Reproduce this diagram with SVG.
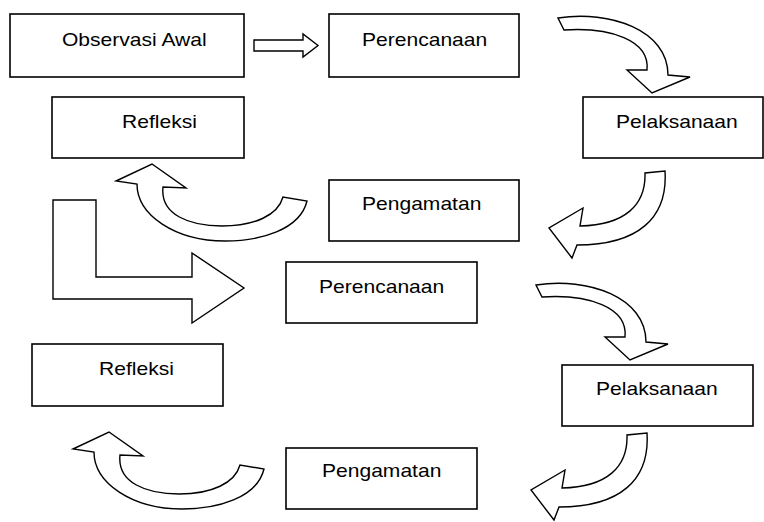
<svg xmlns="http://www.w3.org/2000/svg" width="764" height="522" viewBox="0 0 764 522">
<style>
.box{fill:#fff;stroke:#000;stroke-width:1.6}
.lbl{font-family:"Liberation Sans",Arial,sans-serif;font-size:18px;fill:#000}
.arr{fill:#fff;stroke:#000;stroke-width:1.4;stroke-linejoin:miter}
</style>
<defs>
<path id="curveDown" d="M558,18 C610,10 668,30 668,75 L690,77 L652,93 L627,70 L647,70 C650,40 610,27 564,30 Z"/>
<path id="curveLeft" d="M665,171 C668,218 638,245 577,245 L572,258 L549,228 L583,208 L580,226 C625,225 646,205 645,173 Z"/>
<path id="curveUp" d="M307,201 C300,230 260,241 225,241 C175,241 137,215 137,184 L116,181 L152,164 L186,188 L163,187 C160,215 190,226 222,226 C255,226 278,215 283,197 Z"/>
</defs>
<rect width="764" height="522" fill="#fff"/>
<g id="connectors">
<polygon class="arr" points="254,40 303,40 303,34 318,45.5 303,57 303,51 254,51"/>
<use href="#curveDown" class="arr"/>
<use href="#curveLeft" class="arr"/>
<use href="#curveUp" class="arr"/>
<polygon class="arr" points="53,200 96,200 96,277 192,277 192,253 244,288 192,323 192,299 53,299"/>
<use href="#curveDown" class="arr" transform="translate(-22,267)"/>
<use href="#curveLeft" class="arr" transform="translate(-18,262)"/>
<use href="#curveUp" class="arr" transform="translate(-43,268)"/>
</g>
<g id="observasi-awal"><rect class="box" x="10" y="14" width="234" height="63"/><text class="lbl" transform="translate(62,46) scale(1.17,1)">Observasi Awal</text></g>
<g id="perencanaan-1"><rect class="box" x="329" y="14" width="190" height="63"/><text class="lbl" transform="translate(362,46) scale(1.17,1)">Perencanaan</text></g>
<g id="pelaksanaan-1"><rect class="box" x="583" y="97" width="180" height="61"/><text class="lbl" transform="translate(616,128) scale(1.17,1)">Pelaksanaan</text></g>
<g id="refleksi-1"><rect class="box" x="52" y="97" width="192" height="61"/><text class="lbl" transform="translate(122,128) scale(1.17,1)">Refleksi</text></g>
<g id="pengamatan-1"><rect class="box" x="329" y="180" width="190" height="61"/><text class="lbl" transform="translate(362,210) scale(1.17,1)">Pengamatan</text></g>
<g id="perencanaan-2"><rect class="box" x="286" y="262" width="191" height="61"/><text class="lbl" transform="translate(319,293) scale(1.17,1)">Perencanaan</text></g>
<g id="refleksi-2"><rect class="box" x="32" y="344" width="191" height="62"/><text class="lbl" transform="translate(99,375) scale(1.17,1)">Refleksi</text></g>
<g id="pelaksanaan-2"><rect class="box" x="562" y="365" width="191" height="61"/><text class="lbl" transform="translate(596,395) scale(1.17,1)">Pelaksanaan</text></g>
<g id="pengamatan-2"><rect class="box" x="286" y="448" width="191" height="61"/><text class="lbl" transform="translate(322,477) scale(1.17,1)">Pengamatan</text></g>
</svg>
